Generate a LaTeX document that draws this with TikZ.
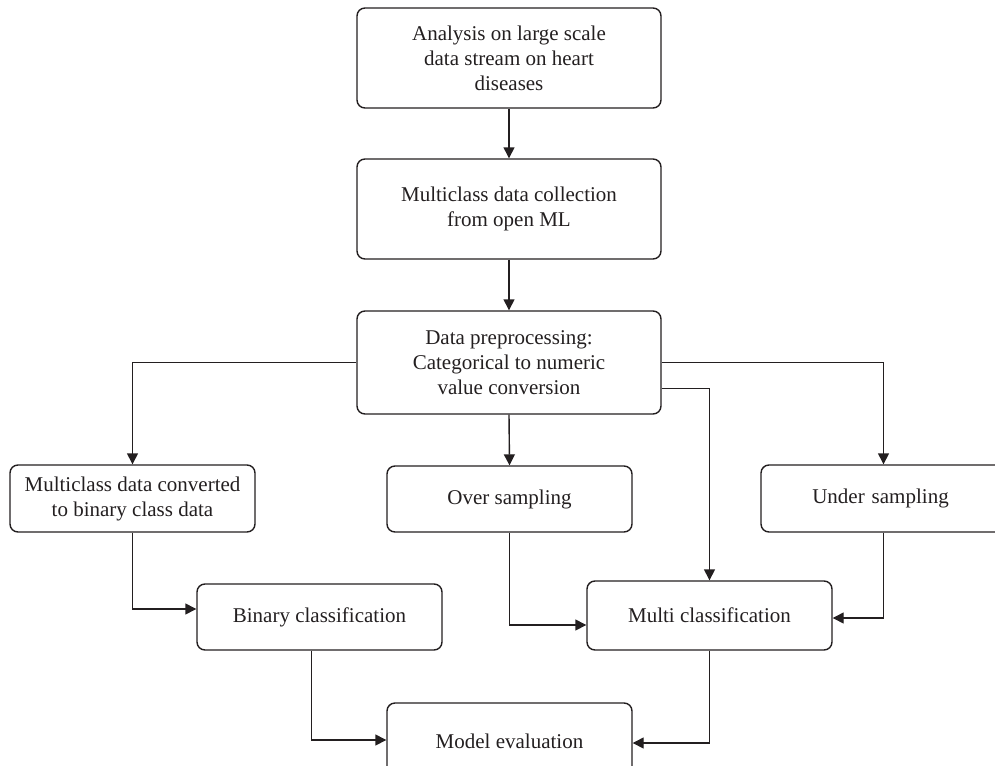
\documentclass[tikz,border=0pt]{standalone}
\usepackage{fontspec}
\setmainfont{Liberation Serif}
\usetikzlibrary{arrows.meta}
\definecolor{ink}{HTML}{231F20}
\begin{document}
\begin{tikzpicture}[x=1pt,y=-1pt,
  box/.style={draw=ink, line width=1.4pt, rounded corners=8pt, align=center,
    text=ink, font=\fontsize{21}{25}\selectfont, inner sep=0pt},
  conn/.style={draw=ink, line width=1.4pt, -{Triangle[width=11pt,length=11pt]}}]
\useasboundingbox (0,0) rectangle (995,765);
\clip (0,0) rectangle (995,765);
\node[box, minimum width=304pt, minimum height=100pt] (a1) at (509,58)
  {Analysis on large scale\\data stream on heart\\diseases};
\node[box, minimum width=304pt, minimum height=100pt] (a2) at (509,209)
  {Multiclass data collection\\from open ML};
\node[box, minimum width=304pt, minimum height=103pt] (a3) at (509,362.5)
  {Data preprocessing:\\Categorical to numeric\\value conversion};
\node[box, minimum width=245pt, minimum height=67pt] (b1) at (132.5,498.5)
  {Multiclass data converted\\to binary class data};
\node[box, minimum width=245pt, minimum height=66pt] (b2) at (509.5,499)
  {Over sampling};
\node[box, minimum width=245pt, minimum height=67pt, text width=245pt] (b3) at (883.5,498.5)
  {\hspace*{-6pt}Under sampling};
\node[box, minimum width=245pt, minimum height=66pt] (c1) at (319.5,617)
  {Binary classification};
\node[box, minimum width=245pt, minimum height=69pt] (c2) at (709.5,615.5)
  {Multi classification};
\node[box, minimum width=245pt, minimum height=76pt] (d) at (509.5,741)
  {Model evaluation};
\draw[conn] (a1.south) -- (a2.north);
\draw[conn] (a2.south) -- (a3.north);
\draw[conn] (a3.west) -| (b1.north);
\draw[conn] (a3.east) -| (b3.north);
\draw[conn] (a3.south) -- (b2.north);
\draw[conn] ([yshift=-26pt]a3.east) -| (c2.north);
\draw[conn] (b1.south) |- ([yshift=8pt]c1.west);
\draw[conn] (b2.south) |- ([yshift=-9.5pt]c2.west);
\draw[conn] (b3.south) |- ([yshift=-2.5pt]c2.east);
\draw[conn] ([xshift=-8pt]c1.south) |- ([yshift=1pt]d.west);
\draw[conn] (c2.south) |- ([yshift=-2pt]d.east);
\end{tikzpicture}
\end{document}
